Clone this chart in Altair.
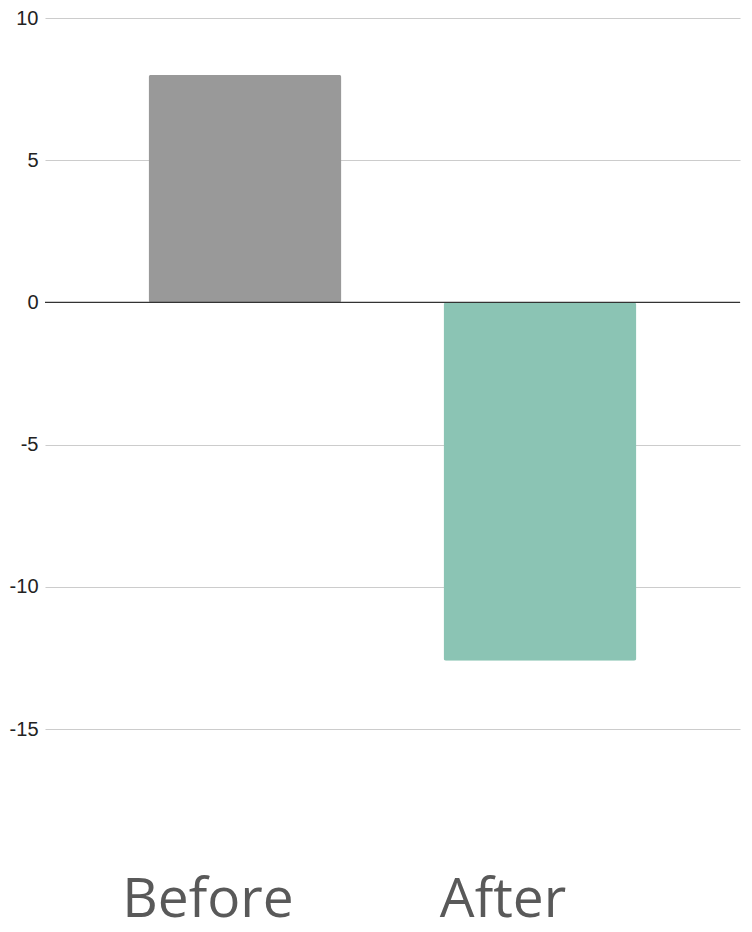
import altair as alt
import pandas as pd

categories = ["Before", "After"]
values = [8.0, -12.6]
colors = ["#999999", "#8bc4b4"]

df = pd.DataFrame({"cat": categories, "val": values})
zero = pd.DataFrame({"z": [0]})

x = alt.X("cat:N", sort=categories, title=None,
          scale=alt.Scale(paddingInner=0.346, paddingOuter=0.351),
          axis=alt.Axis(ticks=False, domain=False, grid=False, labelAngle=0,
                        labelFont="Open Sans", labelFontSize=55,
                        labelColor="#595959", labelBaseline="alphabetic",
                        labelPadding=187, labelOffset=-37))

bars = alt.Chart(df).mark_bar(cornerRadius=2.5).encode(
    x=x,
    y=alt.Y("val:Q", title=None,
            scale=alt.Scale(domain=[-15, 10], nice=False),
            axis=alt.Axis(values=[-15, -10, -5, 0, 5, 10], ticks=False,
                          domain=False, gridColor="#cccccc", gridWidth=1.2,
                          labelExpr="toString(datum.value)",
                          labelFont="Liberation Sans", labelFontSize=20,
                          labelColor="#222222", labelPadding=7)),
    color=alt.Color("cat:N", scale=alt.Scale(domain=categories, range=colors),
                    legend=None),
)

rule = alt.Chart(zero).mark_rule(color="#333333", strokeWidth=1.3).encode(
    y=alt.Y("z:Q")
)

chart = alt.layer(bars, rule).properties(
    width=695, height=711,
    background="white",
    autosize=alt.AutoSizeParams(type="none"),
    padding={"left": 37, "top": 10, "right": 4, "bottom": 195},
).configure_view(strokeWidth=0, stroke=None)

chart.save("out.html", embed_options={"renderer": "svg", "actions": False})
